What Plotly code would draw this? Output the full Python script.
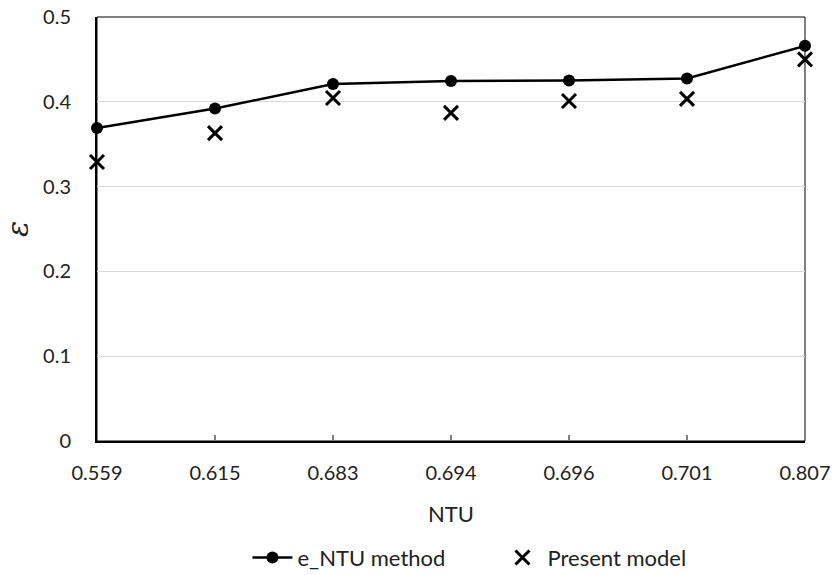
import plotly.graph_objects as go

ntu_labels = ["0.559", "0.615", "0.683", "0.694", "0.696", "0.701", "0.807"]
entu_method = [0.369, 0.392, 0.421, 0.4245, 0.425, 0.4275, 0.466]
present_model = [0.329, 0.363, 0.4045, 0.387, 0.401, 0.4035, 0.450]
y_tickvals = [0, 0.1, 0.2, 0.3, 0.4, 0.5]
y_ticktext = ["0", "0.1", "0.2", "0.3", "0.4", "0.5"]

FONT = "Lato, 'Open Sans', sans-serif"

fig = go.Figure()
fig.add_trace(go.Scatter(
    x=ntu_labels, y=entu_method, name="e_NTU method",
    mode="lines+markers",
    line=dict(color="black", width=2.5),
    marker=dict(symbol="circle", size=12, color="black"),
    cliponaxis=False,
))
fig.add_trace(go.Scatter(
    x=ntu_labels, y=present_model, name="Present model",
    mode="markers",
    marker=dict(symbol="x-thin", size=14, color="black",
                line=dict(color="black", width=3)),
    cliponaxis=False,
))

fig.update_layout(
    width=836, height=575,
    margin=dict(l=97, r=31, t=17, b=134),
    paper_bgcolor="white", plot_bgcolor="white",
    font=dict(family=FONT, size=20, color="#222"),
    showlegend=True,
    legend=dict(orientation="h", xref="container", yref="container",
                x=0.296, xanchor="left", y=0.03, yanchor="middle",
                font=dict(size=22), itemwidth=40, tracegroupgap=0,
                entrywidth=195),
    xaxis=dict(
        type="category", range=[0, 6], automargin=False,
        showgrid=False, zeroline=False,
        showline=True, linecolor="black", linewidth=2,
        ticks="inside", ticklen=6, tickcolor="#808080", tickwidth=1.5,
        ticklabelstandoff=13,
    ),
    yaxis=dict(
        range=[0, 0.5], automargin=False,
        tickvals=y_tickvals, ticktext=y_ticktext,
        showgrid=True, gridcolor="#d9d9d9", gridwidth=1,
        zeroline=False,
        showline=True, linecolor="black", linewidth=2,
        ticks="", ticklabelstandoff=20,
        title=dict(text="<i>ε</i>", standoff=20, font=dict(size=30, family="DejaVu Serif")),
    ),
    annotations=[dict(text="NTU", xref="paper", yref="paper", x=0.5, y=-0.172,
                      xanchor="center", yanchor="middle", showarrow=False,
                      font=dict(size=22))],
    shapes=[dict(type="rect", xref="paper", yref="paper", x0=0, x1=1, y0=0, y1=1,
                 line=dict(color="black", width=1), layer="below")],
)

fig.write_html("out.html")
